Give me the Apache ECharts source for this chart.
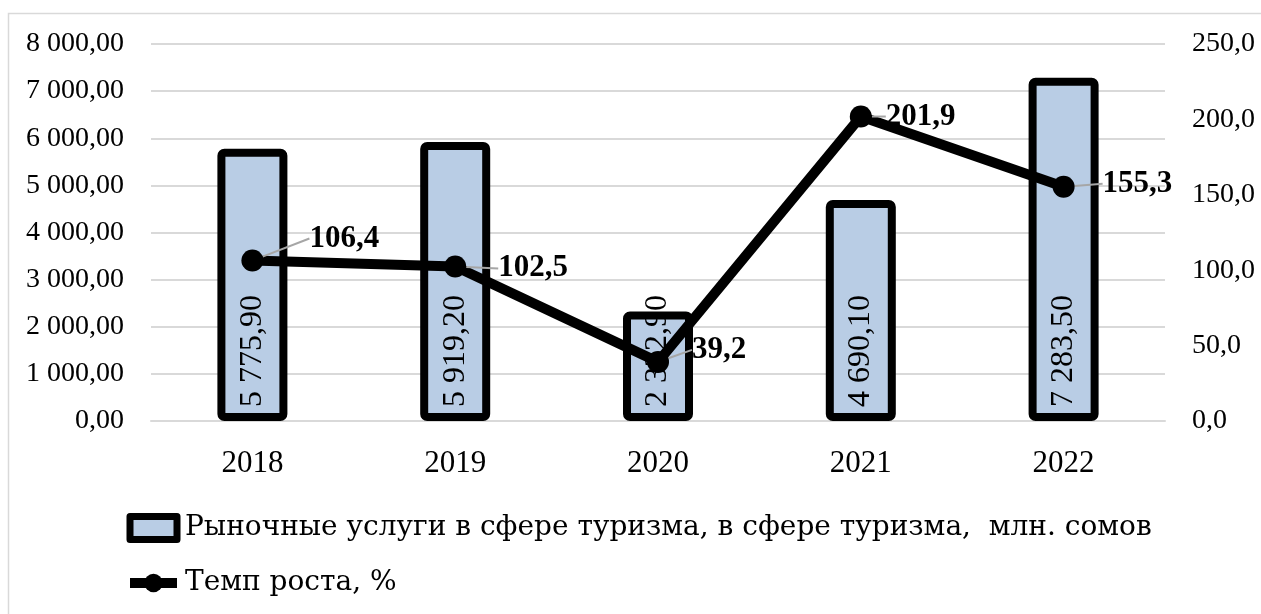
<!DOCTYPE html>
<html>
<head>
<meta charset="utf-8">
<script src="https://cdn.jsdelivr.net/npm/echarts@6/dist/echarts.min.js"></script>
<style>
html, body { margin: 0; padding: 0; background: #fff; }
#main { width: 1261px; height: 614px; }
</style>
</head>
<body>
<div id="main"></div>
<script>
var years = ['2018', '2019', '2020', '2021', '2022'];
var services = [5775.90, 5919.20, 2322.90, 4690.10, 7283.50];
var growth = [106.4, 102.5, 39.2, 201.9, 155.3];
var barName = 'Рыночные услуги в сфере туризма, в сфере туризма,  млн. сомов';
var lineName = 'Темп роста, %';

// label shifts for the growth labels (px)
var labelShift = [[40, -22], [26, 2], [17, -12], [8, 0], [22, -3]];

var serif = '"Liberation Serif", "Times New Roman", serif';

function fmt(v, d) {
	var s = v.toFixed(d).split('.');
	var int = s[0].replace(/\B(?=(\d{3})+(?!\d))/g, ' ');
	return d > 0 ? int + ',' + s[1] : int;
}

var option = {
	backgroundColor: '#fff',
	animation: false,
	graphic: [{
		type: 'rect',
		shape: { x: 8.5, y: 13.5, width: 1300, height: 700 },
		style: { fill: 'none', stroke: '#d9d9d9', lineWidth: 1.5 },
		silent: true
	}],
	grid: { left: 151, right: 96, top: 44, bottom: 193 },
	legend: {
		orient: 'vertical',
		left: 125,
		top: 511,
		height: 100,
		padding: 0,
		itemWidth: 47,
		itemHeight: 23,
		itemGap: 21,
		textStyle: { fontFamily: '"DejaVu Serif", serif', fontSize: 28, lineHeight: 34, color: '#000', padding: [0, 0, 0, 3] },
		data: [
			{ name: barName, icon: 'rect', itemStyle: { color: '#b9cde5', borderColor: '#000', borderWidth: 7, borderJoin: 'round' } },
			{ name: lineName, itemStyle: { color: '#000' }, lineStyle: { width: 10, color: '#000' } }
		]
	},
	xAxis: {
		type: 'category',
		data: years,
		axisLine: { lineStyle: { color: '#d9d9d9', width: 2 } },
		axisTick: { show: false },
		axisLabel: { fontFamily: serif, fontSize: 31, color: '#000', margin: 27 }
	},
	yAxis: [{
		type: 'value',
		min: 0,
		max: 8000,
		interval: 1000,
		axisLine: { show: false },
		axisTick: { show: false },
		splitLine: { lineStyle: { color: '#d9d9d9', width: 2 } },
		axisLabel: {
			fontFamily: serif, fontSize: 28, color: '#000', margin: 27,
			formatter: function(v) { return fmt(v, 2); }
		}
	}, {
		type: 'value',
		min: 0,
		max: 250,
		interval: 50,
		axisLine: { show: false },
		axisTick: { show: false },
		splitLine: { show: false },
		axisLabel: {
			fontFamily: serif, fontSize: 28, color: '#000', margin: 27,
			formatter: function(v) { return fmt(v, 1); }
		}
	}],
	series: [{
		name: barName,
		type: 'bar',
		data: services,
		barWidth: 70,
		itemStyle: { color: '#b9cde5', borderColor: '#000', borderWidth: 8, borderJoin: 'round', borderRadius: 3 },
		label: {
			show: true,
			position: 'insideBottom',
			rotate: 90,
			align: 'left',
			verticalAlign: 'middle',
			distance: 14,
			fontFamily: serif,
			fontSize: 32,
			color: '#000',
			formatter: function(p) { return fmt(p.value, 2); }
		}
	}, {
		name: lineName,
		type: 'line',
		yAxisIndex: 1,
		data: growth,
		symbol: 'circle',
		symbolSize: 22,
		lineStyle: { color: '#000', width: 10 },
		itemStyle: { color: '#000' },
		label: {
			show: true,
			position: 'right',
			distance: 6,
			fontFamily: serif,
			fontSize: 31,
			fontWeight: 'bold',
			color: '#000',
			formatter: function(p) { return fmt(p.value, 1); }
		},
		labelLine: { show: true, lineStyle: { color: '#a6a6a6', width: 2 } },
		labelLayout: function(p) {
			var s = labelShift[p.dataIndex];
			return { dx: s[0], dy: s[1] };
		},
		z: 5
	}]
};

var chart = echarts.init(document.getElementById('main'));
chart.setOption(option);
</script>
</body>
</html>
